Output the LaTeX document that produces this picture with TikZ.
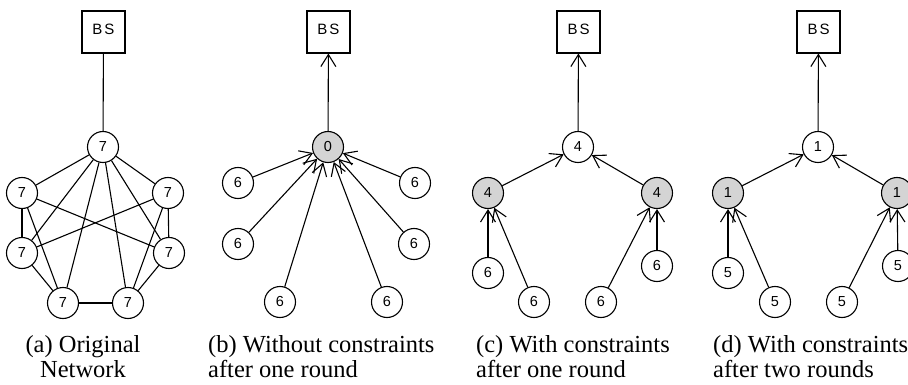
\documentclass[tikz,border=0pt]{standalone}
\usepackage{fontspec}
\setmainfont{Liberation Serif}
\newfontfamily\labelfont{Liberation Sans}
\usetikzlibrary{arrows.meta}

\begin{document}
\begin{tikzpicture}[x=1pt,y=-1pt,
  every node/.style={inner sep=0pt},
  vtx/.style={circle, draw, line width=1.1pt, minimum size=31pt,
              font=\labelfont\fontsize{14.5}{14.5}\selectfont},
  hot/.style={vtx, fill=black!17},
  bs/.style={rectangle, draw, line width=1.1pt, minimum width=43pt,
             minimum height=42pt, text depth=5pt,
             font=\labelfont\fontsize{15}{15}\selectfont},
  link/.style={line width=1.1pt},
  up/.style={link, -{Straight Barb[length=12pt,width=15pt,line width=1.1pt]}},
  capl/.style={font=\fontsize{24.5}{25}\selectfont, align=left, anchor=base west},
  capc/.style={font=\fontsize{24.5}{25}\selectfont, align=center, anchor=base}
]
\useasboundingbox (0,0) rectangle (908,385);

% ---------- (a) original network ----------
\node[bs]  (aBS) at (103.5,32) {B\kern2pt S};
\node[vtx] (aT)  at (103,147) {7};
\node[vtx] (aLU) at (22,193)  {7};
\node[vtx] (aRU) at (168,193) {7};
\node[vtx] (aLL) at (22,253)  {7};
\node[vtx] (aRL) at (169,253) {7};
\node[vtx] (aBL) at (63,303)  {7};
\node[vtx] (aBR) at (128,303) {7};
\draw[link] (aT) -- (aBS);
\foreach \n in {aLU,aRU,aLL,aRL,aBL,aBR} \draw[link] (aT) -- (\n);
\draw[link] (aLU) -- (aLL);
\draw[link] (aRU) -- (aRL);
\draw[link] (aLU) -- (aRL);
\draw[link] (aRU) -- (aLL);
\draw[link] (aLU) -- (aBL);
\draw[link] (aRU) -- (aBR);
\draw[link] (aLL) -- (aBL);
\draw[link] (aRL) -- (aBR);
\draw[link] (aBL) -- (aBR);

% ---------- (b) without constraints, one round ----------
\node[bs]  (bBS) at (328.5,32) {B\kern2pt S};
\node[hot] (b0)  at (328,147) {0};
\node[vtx] (b1)  at (238,183) {6};
\node[vtx] (b2)  at (415,183) {6};
\node[vtx] (b3)  at (238,244) {6};
\node[vtx] (b4)  at (414,244) {6};
\node[vtx] (b5)  at (280,302) {6};
\node[vtx] (b6)  at (387,302) {6};
\draw[up] (b0) -- (bBS);
\foreach \n in {b1,b2,b3,b4,b5,b6} \draw[up] (\n) -- (b0);

% ---------- (c) with constraints, one round ----------
\node[bs]  (cBS) at (578.5,32) {B\kern2pt S};
\node[vtx] (cT)  at (578,147) {4};
\node[hot] (cL)  at (488,193) {4};
\node[hot] (cR)  at (657,193) {4};
\node[vtx] (c1)  at (488,273) {6};
\node[vtx] (c2)  at (534,302) {6};
\node[vtx] (c3)  at (601,302) {6};
\node[vtx] (c4)  at (657,266) {6};
\draw[up] (cT) -- (cBS);
\draw[up] (cL) -- (cT);
\draw[up] (cR) -- (cT);
\draw[up] (c1) -- (cL);
\draw[up] (c2) -- (cL);
\draw[up] (c3) -- (cR);
\draw[up] (c4) -- (cR);

% ---------- (d) with constraints, two rounds ----------
\node[bs]  (dBS) at (818.5,32) {B\kern2pt S};
\node[vtx] (dT)  at (818,147) {1};
\node[hot] (dL)  at (728,193) {1};
\node[hot] (dR)  at (897,193) {1};
\node[vtx] (d1)  at (728,273) {5};
\node[vtx] (d2)  at (775,302) {5};
\node[vtx] (d3)  at (842,302) {5};
\node[vtx] (d4)  at (898,266) {5};
\draw[up] (dT) -- (dBS);
\draw[up] (dL) -- (dT);
\draw[up] (dR) -- (dT);
\draw[up] (d1) -- (dL);
\draw[up] (d2) -- (dL);
\draw[up] (d3) -- (dR);
\draw[up] (d4) -- (dR);

% ---------- captions (anchored on the baseline of the last line) ----------
\node[capc] (capA) at (83,377)  {(a) Original\\Network};
\node[capl] (capB) at (208,377) {(b) Without constraints\\after one round};
\node[capl] (capC) at (476,377) {(c) With constraints\\after one round};
\node[capl] (capD) at (713,377) {(d) With constraints\\after two rounds};
\end{tikzpicture}
\end{document}
